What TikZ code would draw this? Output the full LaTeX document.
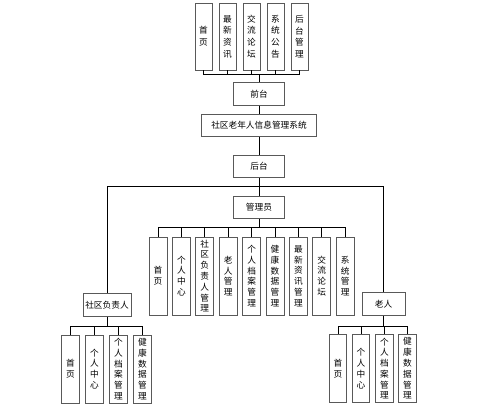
\documentclass[tikz,border=0pt]{standalone}
\usepackage{fontspec}
\newfontfamily\cjk{Noto Sans CJK SC}
\usetikzlibrary{positioning}

\tikzset{
  box/.style={draw=black!65, line width=0.6pt, inner sep=0pt, align=center,
    font=\cjk\fontsize{7.4}{9.2}\selectfont},
  hbox/.style={box, minimum height=0.68cm},
  topbox/.style={box, minimum width=0.51cm, minimum height=2.01cm,
    font=\cjk\fontsize{7.4}{10}\selectfont},
  midbox/.style={box, minimum width=0.54cm, minimum height=2.34cm},
  lowbox/.style={box, minimum width=0.53cm, minimum height=2.04cm},
  link/.style={draw=black, line width=0.6pt}
}

\begin{document}
\begin{tikzpicture}[x=0.03cm,y=-0.03cm]
        \useasboundingbox (0,0) rectangle (500,409);

        % Front part
        \node[topbox] (t1) at (203.5,36.5) {首\\页};
        \node[topbox] (t2) at (227.5,36.5) {最\\新\\资\\讯};
        \node[topbox] (t3) at (251.5,36.5) {交\\流\\论\\坛};
        \node[topbox] (t4) at (275.5,36.5) {系\\统\\公\\告};
        \node[topbox] (t5) at (299.5,36.5) {后\\台\\管\\理};
        \coordinate (b0) at (259,74);

        \node[hbox, minimum width=1.53cm] (qt) at (259,94) {前台};
        \node[hbox, minimum width=3.45cm] (sys) at (259,125.5) {社区老年人信息管理系统};
        \node[hbox, minimum width=1.53cm] (ht) at (259,166.5) {后台};

        \foreach \i in {1,...,5}
          \draw[link] (t\i.south) |- (b0);
        \draw[link] (b0) -- (qt.north);
        \draw[link] (qt) -- (sys);
        \draw[link] (sys) -- (ht);

        % Back part: three roles
        \coordinate (b1) at (259,186);
        \node[hbox, minimum width=1.53cm] (gly) at (259,207.5) {管理员};
        \node[hbox, minimum width=1.44cm] (fzr) at (107,305) {社区负责人};
        \node[hbox, minimum width=1.29cm] (lr) at (383.5,304) {老人};

        \draw[link] (ht) -- (b1);
        \draw[link] (b1) -- (gly);
        \draw[link] (b1) -| (fzr.north);
        \draw[link] (b1) -| (lr.north);

        % Administrator modules
        \coordinate (b2) at (259,227);
        \node[midbox] (m1) at (158,276) {首\\页};
        \node[midbox] (m2) at (181.4,276) {个\\人\\中\\心};
        \node[midbox] (m3) at (204.8,276) {社\\区\\负\\责\\人\\管\\理};
        \node[midbox] (m4) at (228.2,276) {老\\人\\管\\理};
        \node[midbox] (m5) at (251.6,276) {个\\人\\档\\案\\管\\理};
        \node[midbox] (m6) at (275,276) {健\\康\\数\\据\\管\\理};
        \node[midbox] (m7) at (298.4,276) {最\\新\\资\\讯\\管\\理};
        \node[midbox] (m8) at (321.8,276) {交\\流\\论\\坛};
        \node[midbox] (m9) at (345.2,276) {系\\统\\管\\理};

        \draw[link] (gly) -- (b2);
        \foreach \i in {1,...,9}
          \draw[link] (m\i.north) |- (b2);

        % Community leader modules
        \coordinate (b3) at (107,326);
        \node[lowbox] (f1) at (70.5,369) {首\\页};
        \node[lowbox] (f2) at (94.5,369) {个\\人\\中\\心};
        \node[lowbox] (f3) at (118.5,369) {个\\人\\档\\案\\管\\理};
        \node[lowbox] (f4) at (142.5,369) {健\\康\\数\\据\\管\\理};

        \draw[link] (fzr) -- (b3);
        \foreach \i in {1,...,4}
          \draw[link] (f\i.north) |- (b3);

        % Elderly modules
        \coordinate (b4) at (383.5,326);
        \node[lowbox] (e1) at (338,368.5) {首\\页};
        \node[lowbox] (e2) at (361,368.5) {个\\人\\中\\心};
        \node[lowbox] (e3) at (384.5,368.5) {个\\人\\档\\案\\管\\理};
        \node[lowbox] (e4) at (407.5,368.5) {健\\康\\数\\据\\管\\理};

        \draw[link] (lr) -- (b4);
        \foreach \i in {1,...,4}
          \draw[link] (e\i.north) |- (b4);

    \end{tikzpicture}
\end{document}
